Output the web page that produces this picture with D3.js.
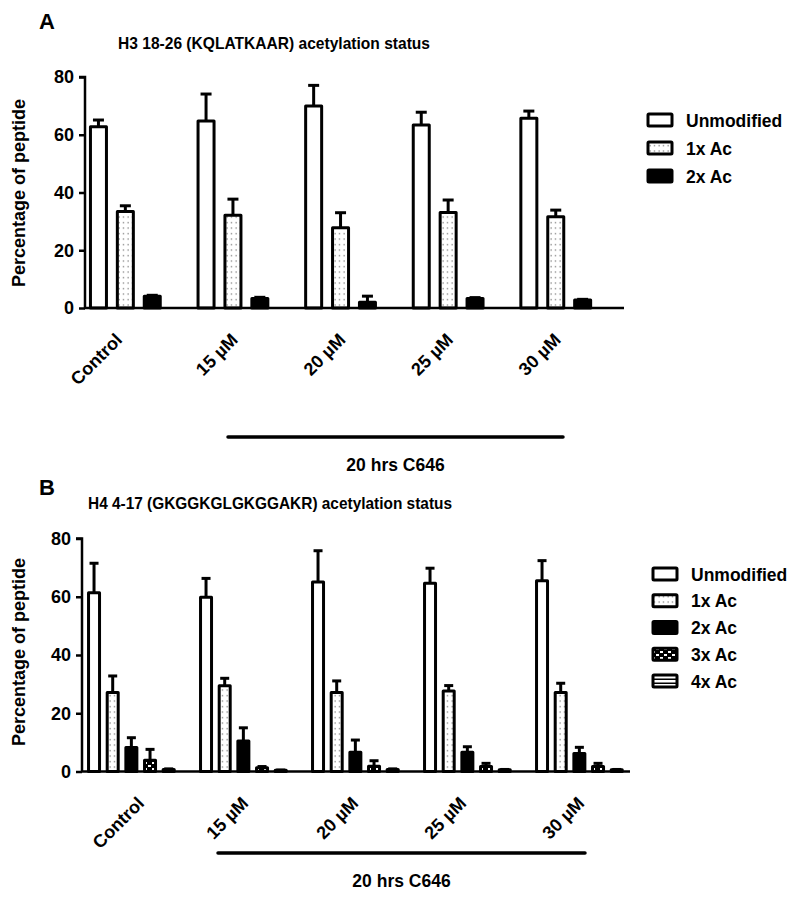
<!DOCTYPE html>
<html><head><meta charset="utf-8">
<script src="https://cdn.jsdelivr.net/npm/d3@7"></script>
<style>body{margin:0;background:#fff}svg{display:block}text{font-family:"Liberation Sans",Arial,sans-serif;font-weight:bold;fill:#000}</style>
</head><body>
<script>
// ---------- DATA ----------
const groups = ["Control", "15 \u00B5M", "20 \u00B5M", "25 \u00B5M", "30 \u00B5M"];
const yTicks = [0, 20, 40, 60, 80];

// Panel A: H3 18-26
const seriesA = ["Unmodified", "1x Ac", "2x Ac"];
const h3Unmod = [62.8, 64.8, 70.0, 63.4, 65.7];
const h3UnmodErr = [2.3, 9.3, 7.1, 4.4, 2.5];
const h3Ac1 = [33.4, 32.1, 27.8, 33.1, 31.6];
const h3Ac1Err = [2.0, 5.6, 5.2, 4.3, 2.3];
const h3Ac2 = [4.1, 3.3, 2.0, 3.3, 2.8];
const h3Ac2Err = [0.3, 0.4, 2.1, 0.3, 0.2];

// Panel B: H4 4-17
const seriesB = ["Unmodified", "1x Ac", "2x Ac", "3x Ac", "4x Ac"];
const h4Unmod = [61.4, 59.8, 65.1, 64.6, 65.5];
const h4UnmodErr = [10.1, 6.5, 10.7, 5.2, 6.9];
const h4Ac1 = [27.1, 29.4, 27.1, 27.6, 27.1];
const h4Ac1Err = [5.7, 2.6, 4.0, 1.9, 3.2];
const h4Ac2 = [8.2, 10.5, 6.6, 6.6, 6.2];
const h4Ac2Err = [3.4, 4.5, 4.2, 1.9, 2.1];
const h4Ac3 = [3.9, 1.3, 1.8, 1.7, 1.7];
const h4Ac3Err = [3.7, 0.4, 1.9, 1.1, 1.1];
const h4Ac4 = [0.7, 0.4, 0.7, 0.6, 0.6];
const h4Ac4Err = [0.2, 0.1, 0.2, 0.1, 0.1];

const fills = {"Unmodified": "#fff", "1x Ac": "url(#dots)", "2x Ac": "#000", "3x Ac": "url(#checker)", "4x Ac": "url(#hlines)"};

// ---------- SVG ----------
const svg = d3.select("body").append("svg").attr("width", 800).attr("height", 897);
const defs = svg.append("defs");
const pd = defs.append("pattern").attr("id", "dots").attr("patternUnits", "userSpaceOnUse").attr("width", 4.5).attr("height", 5.5);
pd.append("rect").attr("width", 4.5).attr("height", 5.5).attr("fill", "#fff");
pd.append("rect").attr("x", 1.5).attr("y", 2).attr("width", 1.2).attr("height", 1.2).attr("fill", "#666");
const pc = defs.append("pattern").attr("id", "checker").attr("patternUnits", "userSpaceOnUse").attr("width", 8).attr("height", 6);
pc.append("rect").attr("width", 8).attr("height", 6).attr("fill", "#000");
pc.append("rect").attr("x", 0).attr("y", 0).attr("width", 3).attr("height", 2).attr("fill", "#fff");
pc.append("rect").attr("x", 4).attr("y", 3).attr("width", 3).attr("height", 2).attr("fill", "#fff");
const ph = defs.append("pattern").attr("id", "hlines").attr("patternUnits", "userSpaceOnUse").attr("width", 4).attr("height", 4);
ph.append("rect").attr("width", 4).attr("height", 4).attr("fill", "#fff");
ph.append("rect").attr("y", 2.5).attr("width", 4).attr("height", 1.5).attr("fill", "#000");

function panel(cfg) {
  const g = svg.append("g");
  const y = d3.scaleLinear().domain([0, 80]).range([cfg.y0, cfg.y80]);
  const x0 = d3.scaleBand().domain(groups).range([cfg.xStart, cfg.xStart + cfg.groupStep * groups.length]).padding(0);
  const nSlots = cfg.series.length + 1;
  const x1 = d3.scaleBand().domain(cfg.series).range([0, x0.bandwidth() * cfg.series.length / nSlots]).padding(0);
  const bw = cfg.barW;

  // panel letter and title
  g.append("text").attr("x", 39).attr("y", cfg.letterY).attr("font-size", 22).text(cfg.letter);
  g.append("text").attr("x", cfg.titleX).attr("y", cfg.titleY).attr("font-size", 16.5)
    .attr("textLength", cfg.titleLen).attr("lengthAdjust", "spacingAndGlyphs").text(cfg.title);

  // y axis
  const ya = g.append("g").attr("transform", `translate(${cfg.axisX},0)`)
    .call(d3.axisLeft(y).tickValues(yTicks).tickSize(6).tickPadding(5).tickFormat(d3.format("d")));
  ya.select(".domain").attr("stroke", "#000").attr("stroke-width", 2.5).attr("d", `M-6,${cfg.y80}H0V${cfg.y0}`);
  ya.selectAll(".tick line").attr("stroke", "#000").attr("stroke-width", 2.5);
  ya.selectAll(".tick text").attr("font-size", 18).attr("font-family", "Liberation Sans, Arial, sans-serif").attr("font-weight", "bold").attr("fill", "#000");
  g.append("text").attr("transform", `translate(24.5,${cfg.yTitleY}) rotate(-90)`).attr("text-anchor", "middle").attr("font-size", 18).text("Percentage of peptide");

  // bars
  cfg.series.forEach((s, si) => {
    const vals = cfg.values[si], errs = cfg.errors[si];
    groups.forEach((gr, gi) => {
      const cx = x0(gr) + x1(s) + x1.bandwidth() / 2;
      const v = vals[gi], e = errs[gi];
      g.append("line").attr("x1", cx).attr("x2", cx).attr("y1", y(v)).attr("y2", y(v + e)).attr("stroke", "#000").attr("stroke-width", 3);
      g.append("line").attr("x1", cx - cfg.capW / 2).attr("x2", cx + cfg.capW / 2).attr("y1", y(v + e)).attr("y2", y(v + e)).attr("stroke", "#000").attr("stroke-width", 3);
      g.append("rect").attr("x", cx - bw / 2).attr("y", y(v)).attr("width", bw).attr("height", Math.max(0, y(0) - y(v)))
        .attr("fill", fills[s]).attr("stroke", "#000").attr("stroke-width", 3).attr("stroke-linejoin", "round");
    });
  });

  // x axis line
  g.append("line").attr("x1", cfg.axisX - 1).attr("x2", cfg.xEnd).attr("y1", cfg.y0).attr("y2", cfg.y0).attr("stroke", "#000").attr("stroke-width", 2.5);

  // x labels
  groups.forEach((gr, gi) => {
    const cx = x0(gr) + x1.bandwidth() * cfg.series.length / 2 + cfg.labelDx[gi];
    g.append("text").attr("transform", `translate(${cx},${cfg.y0 + cfg.labelDy}) rotate(-45)`)
      .attr("text-anchor", "end").attr("font-size", 18).text(gr);
  });

  // treatment bar
  g.append("line").attr("x1", cfg.bracket[0]).attr("x2", cfg.bracket[1]).attr("y1", cfg.bracketY).attr("y2", cfg.bracketY)
    .attr("stroke", "#000").attr("stroke-width", 3.5).attr("stroke-linecap", "round");
  g.append("text").attr("x", (cfg.bracket[0] + cfg.bracket[1]) / 2).attr("y", cfg.bracketY + 34).attr("text-anchor", "middle").attr("font-size", 17.5).text("20 hrs C646");

  // legend
  cfg.series.forEach((s, si) => {
    const ly = cfg.legY + si * cfg.legStep;
    g.append("rect").attr("x", cfg.legX).attr("y", ly - 6).attr("width", 24).attr("height", 12)
      .attr("fill", fills[s]).attr("stroke", "#000").attr("stroke-width", 3).attr("rx", 1);
    g.append("text").attr("x", cfg.legX + 38).attr("y", ly + 6.5).attr("font-size", 17.5).text(s);
  });
}

panel({
  letter: "A", letterY: 29, title: "H3 18-26 (KQLATKAAR) acetylation status", titleX: 118, titleY: 49, titleLen: 312,
  series: seriesA, values: [h3Unmod, h3Ac1, h3Ac2], errors: [h3UnmodErr, h3Ac1Err, h3Ac2Err],
  y0: 308, y80: 77, axisX: 85, xStart: 85, groupStep: 107.6, barW: 16, capW: 11, xEnd: 624,
  yTitleY: 193, labelDx: [-2, 6, 6, 6, 6], labelDy: 33,
  bracket: [228, 563], bracketY: 437,
  legX: 648, legY: 120, legStep: 28
});

panel({
  letter: "B", letterY: 495, title: "H4 4-17 (GKGGKGLGKGGAKR) acetylation status", titleX: 88, titleY: 509, titleLen: 364,
  series: seriesB, values: [h4Unmod, h4Ac1, h4Ac2, h4Ac3, h4Ac4], errors: [h4UnmodErr, h4Ac1Err, h4Ac2Err, h4Ac3Err, h4Ac4Err],
  y0: 771.5, y80: 538.5, axisX: 82, xStart: 84.7, groupStep: 112, barW: 11, capW: 9, xEnd: 630,
  yTitleY: 652, labelDx: [14, 6, 4, 0, 6], labelDy: 33,
  bracket: [218, 585], bracketY: 853,
  legX: 653, legY: 574, legStep: 26.75
});
</script>
</body></html>
